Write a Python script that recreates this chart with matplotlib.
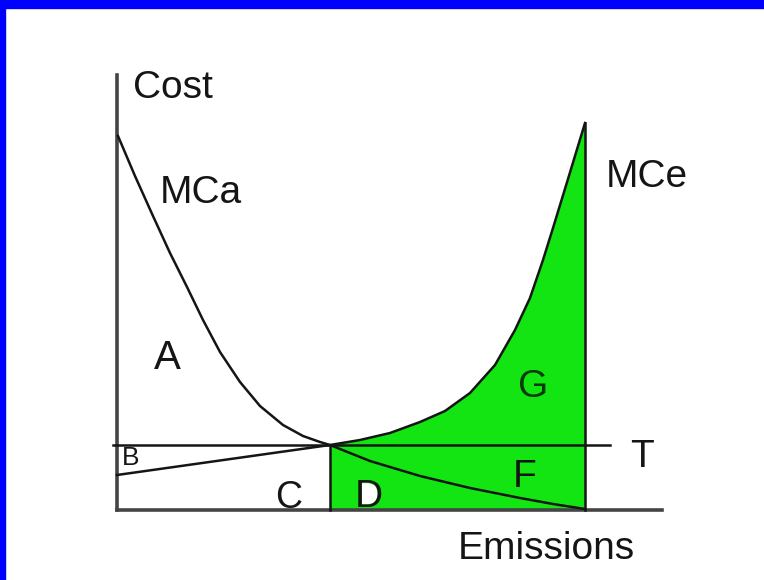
import numpy as np
import matplotlib.pyplot as plt
from matplotlib.patches import Rectangle, PathPatch
from matplotlib.textpath import TextPath
from matplotlib.font_manager import FontProperties
from matplotlib.path import Path

plt.rcParams['font.family'] = ['Liberation Sans', 'DejaVu Sans']

# =============================================================================
# Data (schematic units: emissions on x, cost on y)
# =============================================================================
mca_x = [1, 18, 36, 53, 70, 86, 103, 123, 143, 166, 186, 203, 213,
         253, 303, 353, 403, 436, 468]
mca_y = [374, 334, 294, 257, 223, 190, 158, 128, 104, 85, 74, 68, 65,
         49, 34, 22, 12, 6, 1]

mce_x = [0, 213, 243, 273, 303, 328, 353, 378, 398, 413, 426, 436, 451, 468]
mce_y = [35, 65, 70, 77, 88, 99, 117, 145, 180, 212, 250, 282, 331, 387]

t_level = 65
t_range = (-4, 493)
e_star = 213      # optimum emissions
e_max = 468       # unregulated emissions
axis_top = 435
axis_right = 545

# area labels: (text, x, y, size)
labels = [('Cost', 16, 412, 28), ('MCa', 43, 307, 28), ('MCe', 489, 323, 28),
          ('A', 37, 141, 29), ('B', 5, 45, 19), ('C', 158, 2, 27),
          ('F', 396, 23, 28), ('G', 401, 113, 28), ('T', 513, 43, 28),
          ('Emissions', 341, -49, 28)]
d_label = ('D', 238, 3, 28)

green = '#12e512'
ink = '#151515'

fig = plt.figure(figsize=(7.64, 5.8), dpi=100)
ax = fig.add_axes([0, 0, 1, 1])
ax.set_xlim(-117, 647)
ax.set_ylim(-70, 510)
ax.axis('off')

# blue frame on top and left
fig.patches.append(Rectangle((0, 1 - 8 / 580), 1, 8 / 580, transform=fig.transFigure,
                             color='#0000ff', zorder=0))
fig.patches.append(Rectangle((0, 0), 5 / 764, 1, transform=fig.transFigure,
                             color='#0000ff', zorder=0))

# green area under MCe between e_star and e_max
mce_x_a = np.array(mce_x)
mce_y_a = np.array(mce_y)
sel = mce_x_a >= e_star
ax.fill_between(mce_x_a[sel], 0, mce_y_a[sel], color=green, lw=0, zorder=1)

# axes
ax.plot([0, 0], [0, axis_top], color='#444444', lw=2.6, zorder=3)
ax.plot([0, axis_right], [0, 0], color='#444444', lw=2.6, zorder=3)

# curves
ax.plot(mca_x, mca_y, color=ink, lw=1.8, zorder=4, solid_joinstyle='round')
ax.plot(mce_x, mce_y, color=ink, lw=1.8, zorder=4, solid_joinstyle='round')
ax.plot(t_range, [t_level, t_level], color=ink, lw=1.8, zorder=4)
ax.plot([e_star, e_star], [0, t_level], color=ink, lw=1.8, zorder=4)
ax.plot([e_max, e_max], [0, mce_y[-1]], color=ink, lw=1.8, zorder=4)

for txt, x, y, s in labels:
    c = '#0a3a0a' if txt == 'G' else ink
    ax.text(x, y, txt, fontsize=s, color=c, ha='left', va='baseline', zorder=5)

# "D" with white counter
txt, x, y, s = d_label
prop = FontProperties(family='Liberation Sans')
tp = TextPath((0, 0), txt, size=s * 100 / 72, prop=prop)
polys = tp.to_polygons()
inner = min(polys, key=lambda p: abs(np.sum(p[:-1, 0] * p[1:, 1] - p[1:, 0] * p[:-1, 1])))
ax.add_patch(PathPatch(Path(inner + [x, y]), facecolor='white', edgecolor='none', zorder=4.5))
ax.text(x, y, txt, fontsize=s, color=ink, ha='left', va='baseline', zorder=5)

fig.savefig('out.png', dpi=100)
